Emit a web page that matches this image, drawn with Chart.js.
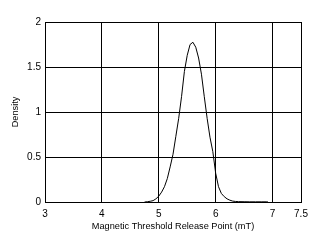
<!DOCTYPE html>
<html>
<head>
<meta charset="utf-8">
<script src="https://cdn.jsdelivr.net/npm/chart.js@4"></script>
<style>
  html, body { margin: 0; padding: 0; background: #fff; }
  #wrap { width: 317px; height: 243px; }
</style>
</head>
<body>
<div id="wrap"><canvas id="densityChart" width="317" height="243"></canvas></div>
<script>
// Density curve (x in mT, y = density)
const fieldValues = [4.75, 4.80, 4.85, 4.90, 4.95, 5.00, 5.05, 5.10, 5.15, 5.20, 5.25, 5.30, 5.35, 5.40, 5.45,
                     5.50, 5.55, 5.60, 5.65, 5.70, 5.75, 5.80, 5.85, 5.90, 5.95, 6.00, 6.05, 6.10, 6.15, 6.20,
                     6.25, 6.30, 6.35, 6.40, 6.50, 6.60, 6.70, 6.80, 6.90, 6.92];
const densityValues = [0, 0.003, 0.008, 0.015, 0.035, 0.065, 0.11, 0.17, 0.26, 0.39, 0.53, 0.73, 0.93, 1.17, 1.45,
                       1.63, 1.75, 1.775, 1.72, 1.60, 1.42, 1.17, 0.93, 0.72, 0.56, 0.32, 0.17, 0.095, 0.06, 0.035,
                       0.02, 0.01, 0.006, 0.004, 0.003, 0.002, 0.002, 0.002, 0.002, 0];

const xTicks = [3, 4, 5, 6, 7, 7.5];
const yTicks = [0, 0.5, 1, 1.5, 2];

const points = fieldValues.map((x, i) => ({ x: x, y: densityValues[i] }));

const tickFont  = { family: 'Liberation Sans, Arial, sans-serif', size: 10 };
const titleFont = { family: 'Liberation Sans, Arial, sans-serif', size: 9.2 };

const ctx = document.getElementById('densityChart').getContext('2d');
new Chart(ctx, {
    type: 'line',
    data: {
        datasets: [{
            data: points,
            borderColor: '#000',
            borderWidth: 1,
            pointRadius: 0,
            tension: 0,
            fill: false
        }]
    },
    options: {
        responsive: false,
        animation: false,
        layout: { padding: { top: 22, right: 16, bottom: 0, left: 0 } },
        plugins: { legend: { display: false }, tooltip: { enabled: false } },
        scales: {
            x: {
                type: 'linear',
                min: 3,
                max: 7.5,
                afterBuildTicks: axis => { axis.ticks = xTicks.map(v => ({ value: v })); },
                afterFit: axis => { axis.height = 41; },
                grid: { color: '#000', lineWidth: 1, drawTicks: false },
                border: { color: '#000', width: 1 },
                ticks: { color: '#000', font: tickFont, padding: 6, maxRotation: 0, autoSkip: false,
                         callback: v => String(v) },
                title: {
                    display: true,
                    text: 'Magnetic Threshold Release Point (mT)',
                    color: '#000',
                    font: titleFont,
                    padding: { top: 0, bottom: 11 }
                }
            },
            y: {
                min: 0,
                max: 2,
                afterBuildTicks: axis => { axis.ticks = yTicks.map(v => ({ value: v })); },
                afterFit: axis => { axis.width = 45; },
                grid: { color: '#000', lineWidth: 1, drawTicks: false },
                border: { color: '#000', width: 1 },
                ticks: { color: '#000', font: tickFont, padding: 4, callback: v => String(v) },
                title: {
                    display: true,
                    text: 'Density',
                    color: '#000',
                    font: titleFont,
                    padding: { top: 10, bottom: 0 }
                }
            }
        }
    }
});
</script>
</body>
</html>
